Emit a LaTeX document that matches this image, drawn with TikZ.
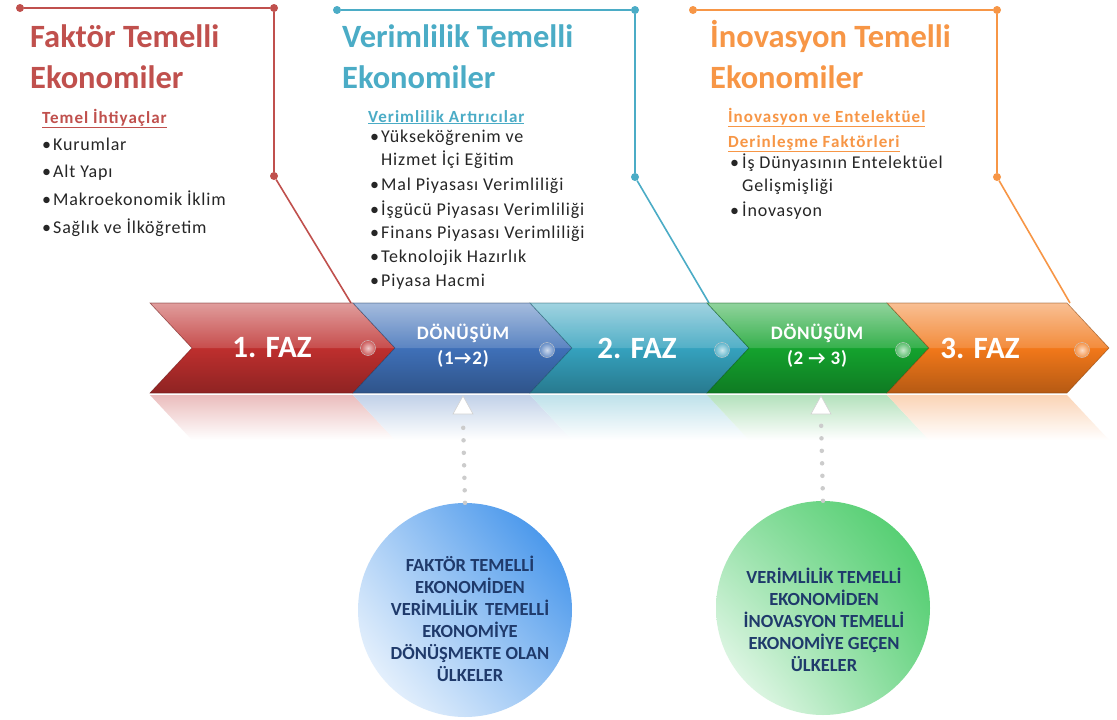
\documentclass[tikz,border=0pt]{standalone}
\usepackage{fontspec}
\setmainfont{Carlito}
\newfontfamily\spaced{Carlito}[LetterSpace=4.5]
\newfontfamily\spacedb{Carlito}[LetterSpace=6]
\newfontfamily\spacedc{Carlito}[LetterSpace=4]
\usetikzlibrary{arrows.meta,shadings}
\definecolor{cred}{HTML}{C0504D}
\definecolor{cteal}{HTML}{4BACC6}
\definecolor{corange}{HTML}{F79646}
\definecolor{sred}{HTML}{BE2F2E}
\definecolor{sblue}{HTML}{3F70B8}
\definecolor{steal}{HTML}{35A2BE}
\definecolor{sgreen}{HTML}{14A32E}
\definecolor{sorange}{HTML}{F2781A}
\definecolor{navy}{HTML}{1F3A6B}
\definecolor{cblue}{HTML}{2B86E8}
\definecolor{cgreen}{HTML}{22C048}
\newcommand\chevron[3]{%
  \path[top color=#3!55!white, bottom color=#3!75!black, middle color=#3]
    (#1,303) -- (#2,303) -- ({#2+42},348) -- (#2,393) -- (#1,393) -- ({#1+42},348) -- cycle;
  \fill[white, opacity=0.15] (#1,303) -- (#2,303) -- ({#2+42},348) -- ({#1+42},348) -- cycle;
  \draw[#3!55!black, line width=0.6pt, opacity=0.6]
    (#1,303) -- (#2,303) -- ({#2+42},348) -- (#2,393) -- (#1,393) -- ({#1+42},348) -- cycle;
  \path[top color=#3!32!white, bottom color=white]
    (#1,395) -- (#2,395) -- ({#2+42},440) -- ({#1+42},440) -- cycle;
}
\begin{document}
\begin{tikzpicture}[x=1pt,y=-1pt,
  title/.style={anchor=base west, inner sep=0pt, font=\fontsize{32.5}{38}\selectfont\bfseries},
  subhead/.style={anchor=base west, inner sep=0pt, font=\spacedb\fontsize{17}{20}\selectfont\bfseries},
  item/.style={anchor=base west, inner sep=0pt, text=black!85, font=\spaced\fontsize{18}{21}\selectfont},
  faz/.style={text=white, font=\fontsize{31}{35}\selectfont\bfseries},
  donus/.style={text=white, align=center, font=\spacedc\fontsize{19}{25}\selectfont\bfseries},
  bracket/.style={line width=1.6pt},
  bdot/.style={circle, fill, inner sep=0pt, minimum size=8pt},
  dotline/.style={gray!40, line width=4.5pt, line cap=round, dash pattern=on 0pt off 12.5pt},
  ball/.style={circle, inner sep=0pt, minimum size=15pt, draw=white!60!gray, line width=0.4pt},
  bubble/.style={circle, inner sep=0pt, minimum size=214pt},
  bubtext/.style={align=center, text=navy, inner sep=0pt, font=\fontsize{18.5}{22}\selectfont\bfseries}
]
\useasboundingbox (0,0) rectangle (1117,720);
\fill[white] (0,0) rectangle (1117,720);

% ---------- brackets ----------
\node[bdot, cred] (r1) at (20,8) {};
\node[bdot, cred] (r2) at (274,8) {};
\node[bdot, cred] (r3) at (274,176) {};
\coordinate (r4) at (351,303);
\draw[bracket, cred] (r1) -- (r2) -- (r3) -- (r4);

\node[bdot, cteal] (t1) at (337,10) {};
\node[bdot, cteal] (t2) at (635,10) {};
\node[bdot, cteal] (t3) at (635,177) {};
\coordinate (t4) at (709,303);
\draw[bracket, cteal] (t1) -- (t2) -- (t3) -- (t4);

\node[bdot, corange] (o1) at (693,10) {};
\node[bdot, corange] (o2) at (997,10) {};
\node[bdot, corange] (o3) at (997,177) {};
\coordinate (o4) at (1070,303);
\draw[bracket, corange] (o1) -- (o2) -- (o3) -- (o4);

% ---------- titles ----------
\node[title, text=cred] (h1a) at (30,47) {Faktör Temelli};
\node[title, text=cred] (h1b) at (30,88) {Ekonomiler};
\node[title, text=cteal] (h2a) at (342,47) {Verimlilik Temelli};
\node[title, text=cteal] (h2b) at (342,88) {Ekonomiler};
\node[title, text=corange] (h3a) at (710,47) {İnovasyon Temelli};
\node[title, text=corange] (h3b) at (710,88) {Ekonomiler};

% ---------- column 1 ----------
\node[subhead, text=cred] (s1) at (42,123) {\underline{Temel İhtiyaçlar}};
\node[item] (i11) at (42,150) {\makebox[11pt][l]{•}Kurumlar};
\node[item] (i12) at (42,177) {\makebox[11pt][l]{•}Alt Yapı};
\node[item] (i13) at (42,205) {\makebox[11pt][l]{•}Makroekonomik İklim};
\node[item] (i14) at (42,233) {\makebox[11pt][l]{•}Sağlık ve İlköğretim};

% ---------- column 2 ----------
\node[subhead, text=cteal] (s2) at (368,122) {\underline{Verimlilik Artırıcılar}};
\node[item] (i21) at (370,142) {\makebox[11pt][l]{•}Yükseköğrenim ve};
\node[item] (i22) at (381,165) {Hizmet İçi Eğitim};
\node[item] (i23) at (370,190) {\makebox[11pt][l]{•}Mal Piyasası Verimliliği};
\node[item] (i24) at (370,215) {\makebox[11pt][l]{•}İşgücü Piyasası Verimliliği};
\node[item] (i25) at (370,238) {\makebox[11pt][l]{•}Finans Piyasası Verimliliği};
\node[item] (i26) at (370,262) {\makebox[11pt][l]{•}Teknolojik Hazırlık};
\node[item] (i27) at (370,286) {\makebox[11pt][l]{•}Piyasa Hacmi};

% ---------- column 3 ----------
\node[subhead, text=corange] (s3a) at (728,122) {\underline{İnovasyon ve Entelektüel}};
\node[subhead, text=corange] (s3b) at (728,147) {\underline{Derinleşme Faktörleri}};
\node[item] (i31) at (730,168) {\makebox[12pt][l]{•}İş Dünyasının Entelektüel};
\node[item] (i32) at (742,191) {Gelişmişliği};
\node[item] (i33) at (730,216) {\makebox[12pt][l]{•}İnovasyon};

% ---------- band ----------
\chevron{150}{353}{sred}
\chevron{353}{530}{sblue}
\chevron{530}{707}{steal}
\chevron{707}{887}{sgreen}
\chevron{887}{1067}{sorange}

\node[faz] (f1) at (272,348) {1. FAZ};
\node[donus] (d1) at (463,346) {DÖNÜŞÜM\\(1→2)};
\node[faz] (f2) at (637,348) {2. FAZ};
\node[donus] (d2) at (817,346) {DÖNÜŞÜM\\(2 → 3)};
\node[faz] (f3) at (980,348) {3. FAZ};

\node[ball, inner color=sred!25!white, outer color=sred!80!white] (b1) at (368,348) {};
\node[ball, inner color=sblue!25!white, outer color=sblue!80!white] (b2) at (547,350) {};
\node[ball, inner color=steal!25!white, outer color=steal!80!white] (b3) at (722,350) {};
\node[ball, inner color=sgreen!25!white, outer color=sgreen!70!white] (b4) at (903,350) {};
\node[ball, inner color=sorange!25!white, outer color=sorange!80!white] (b5) at (1082,350) {};

% ---------- bubbles ----------
\node[bubble, shade, upper left=cblue!40!white, upper right=cblue, lower left=white, lower right=cblue!50!white]
  (c1) at (465,610) {};
\node[bubtext] (c1t) at (470,619) {FAKTÖR TEMELLİ\\EKONOMİDEN\\VERİMLİLİK\, TEMELLİ\\EKONOMİYE\\DÖNÜŞMEKTE OLAN\\ÜLKELER};
\node[bubble, shade, upper left=cgreen!50!white, upper right=cgreen!85!white, lower left=white, lower right=cgreen!60!white]
  (c2) at (823,608) {};
\node[bubtext] (c2t) at (824,620) {VERİMLİLİK TEMELLİ\\EKONOMİDEN\\İNOVASYON TEMELLİ\\EKONOMİYE GEÇEN\\ÜLKELER};

% ---------- dotted connectors ----------
\coordinate (a1) at (463,396);
\coordinate (a1b) at (463,418);
\coordinate (a2) at (821,396);
\coordinate (a2b) at (821,418);
\draw[dotline] (c1.north) -- (a1b);
\draw[dotline] (c2.north) -- (a2b);
\filldraw[fill=white, draw=gray!35, line width=0.6pt] (a1) -- ++(-10,18) -- ++(20,0) -- cycle;
\filldraw[fill=white, draw=gray!35, line width=0.6pt] (a2) -- ++(-10,18) -- ++(20,0) -- cycle;
\end{tikzpicture}
\end{document}
